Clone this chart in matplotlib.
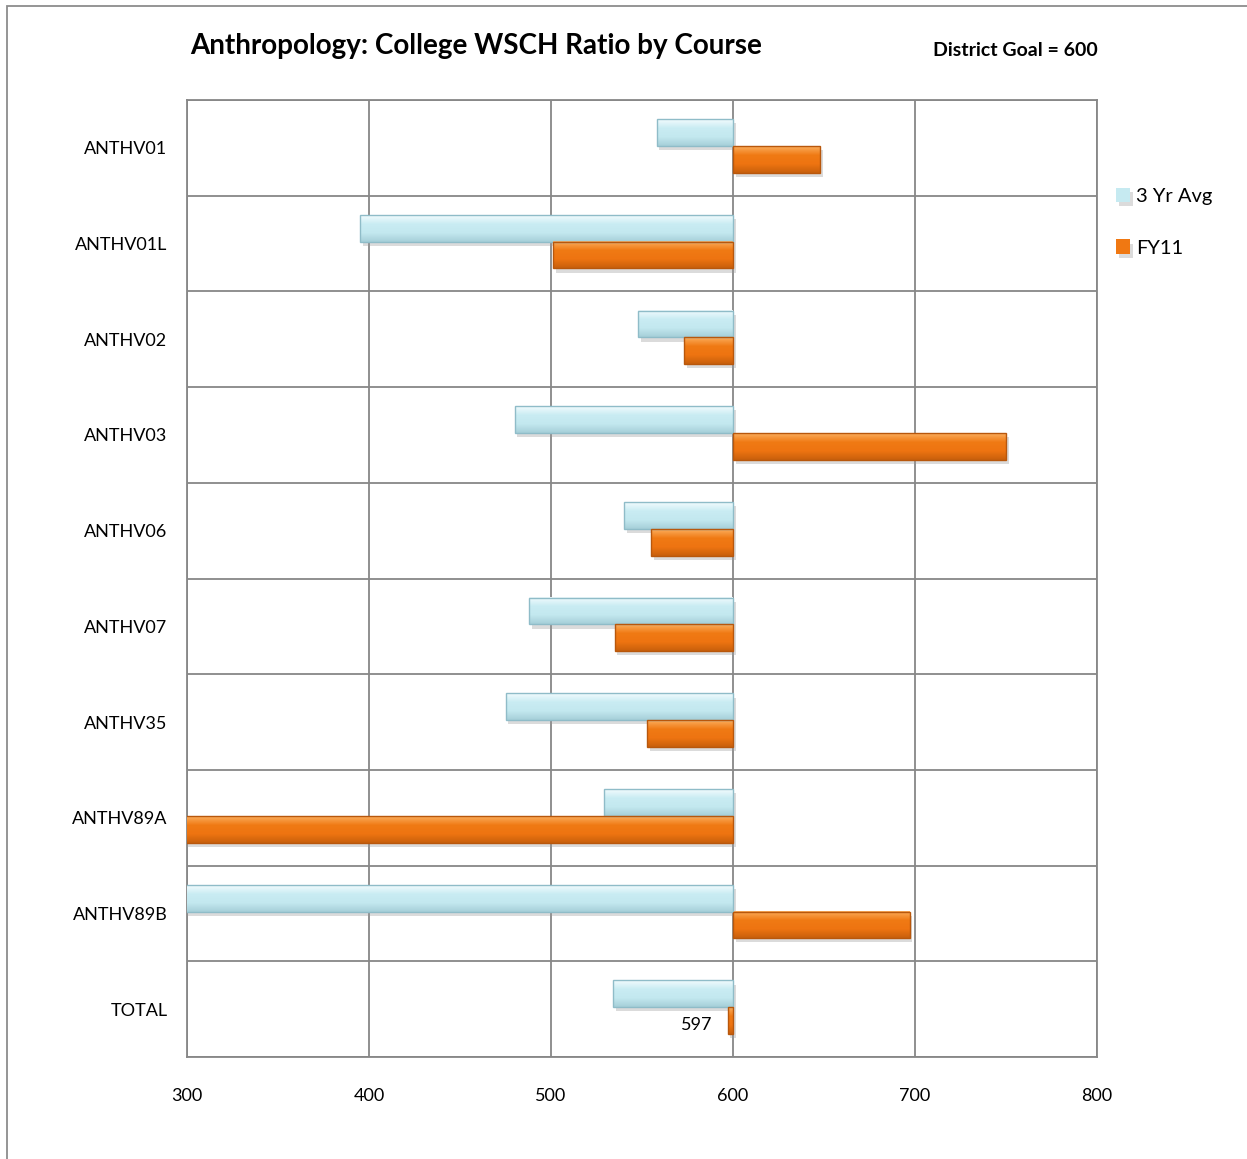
import matplotlib
matplotlib.use("Agg")
import matplotlib.pyplot as plt
import matplotlib.patheffects as pe
from matplotlib.patches import Rectangle
from matplotlib.colors import to_rgb
import numpy as np

plt.rcParams['font.family'] = ['Lato', 'DejaVu Sans']

categories = ["ANTHV01", "ANTHV01L", "ANTHV02", "ANTHV03", "ANTHV06",
              "ANTHV07", "ANTHV35", "ANTHV89A", "ANTHV89B", "TOTAL"]
avg3yr = [558, 395, 548, 480, 540, 488, 475, 529, 285, 534]
fy11 = [648, 501, 573, 750, 555, 535, 553, 280, 697, 597]
goal = 600
series_names = ["3 Yr Avg", "FY11"]
xticks = [300, 400, 500, 600, 700, 800]
xmin, xmax = 300, 800

W, H = 1247, 1159
fig = plt.figure(figsize=(W / 100, H / 100), dpi=100)
ax = fig.add_axes([187 / W, 1 - 1057 / H, (1097 - 187) / W, (1057 - 100) / H])

y = np.arange(len(categories))
h = 0.28
shadow = [pe.SimplePatchShadow(offset=(2, -3), shadow_rgbFace='#999999', alpha=0.35), pe.Normal()]

styles = [
    dict(face='#c6eaf1', edge='#8fbcc8', grad=['#f2fbfd', '#c9ecf3', '#c3e8ef', '#a6cfd9']),
    dict(face='#f07812', edge='#b8570c', grad=['#fbad5c', '#f07a14', '#ee7411', '#c9600c']),
]
offsets = [-0.02 - h / 2, -0.02 + h / 2]
handles = []
for vals, st, off, name in zip([avg3yr, fy11], styles, offsets, series_names):
    bars = ax.barh(y + off, np.array(vals) - goal, left=goal, height=h,
                   color=st['face'], edgecolor='none', label=name,
                   zorder=3, path_effects=shadow)
    grad = np.array([to_rgb(c) for c in st['grad']])
    n = 40
    t = np.linspace(0, 1, n)
    stops = np.linspace(0, 1, len(grad))
    g = np.stack([np.interp(t, stops, grad[:, k]) for k in range(3)], axis=1)[:, None, :]
    for rect in bars:
        x0, w = rect.get_x(), rect.get_width()
        lo, hi = sorted([x0, x0 + w])
        lo, hi = max(lo, xmin), min(hi, xmax)
        y0, hh = rect.get_y(), rect.get_height()
        ax.imshow(g, extent=(lo, hi, y0 + hh, y0), origin='upper',
                  aspect='auto', interpolation='bilinear', zorder=3.2)
    ax.barh(y + off, np.array(vals) - goal, left=goal, height=h,
            fill=False, edgecolor=st['edge'], linewidth=1.0, zorder=3.4)
    handles.append(bars)

ax.set_xlim(xmin, xmax)
ax.set_ylim(len(categories) - 0.5, -0.5)
ax.set_aspect('auto')
ax.set_xticks(xticks)
ax.set_yticks(y)
ax.set_yticklabels(categories)
ax.set_yticks(np.arange(len(categories) + 1) - 0.5, minor=True)
ax.tick_params(axis='both', which='both', length=0, labelsize=13, colors='black')
ax.tick_params(axis='x', pad=22)
ax.tick_params(axis='y', pad=14)
ax.grid(True, axis='x', which='major', color='#878787', linewidth=1.3, zorder=1)
ax.grid(True, axis='y', which='minor', color='#878787', linewidth=1.3, zorder=1)
ax.set_axisbelow(True)
for s in ax.spines.values():
    s.set_color('#878787')
    s.set_linewidth(1.3)

# data label on TOTAL FY11
ax.annotate(str(fy11[-1]), xy=(fy11[-1], y[-1] + offsets[1]), xytext=(-11, -3),
            textcoords='offset points', ha='right', va='center', fontsize=13)

fig.text(190 / W, 1 - 46 / H, "Anthropology: College WSCH Ratio by Course",
         fontsize=20, fontweight='bold', ha='left', va='center')
fig.text(1098 / W, 1 - 50 / H, "District Goal = 600",
         fontsize=14, fontweight='bold', ha='right', va='center')

leg = fig.legend(handles=handles, labels=series_names, loc='upper left',
                 bbox_to_anchor=(1098 / W, 1 - 170 / H), frameon=False,
                 fontsize=14.5, handlelength=0.7, handleheight=0.7,
                 handletextpad=0.3, labelspacing=1.7)

fig.patches.append(Rectangle((7 / W, -0.05), 1.2, 1 - 6 / H + 0.05, transform=fig.transFigure,
                             fill=False, edgecolor='#8c8c8c', linewidth=1.3))

fig.savefig("out.png", dpi=100, facecolor='white')
